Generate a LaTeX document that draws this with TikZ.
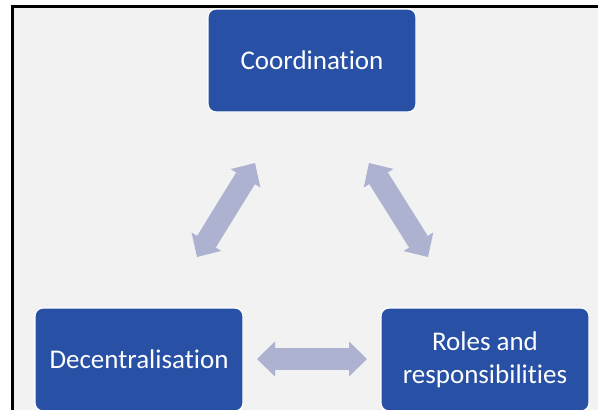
\documentclass[tikz,border=0pt]{standalone}
\usepackage{fontspec}
\setmainfont{Carlito}[Ligatures={NoCommon,NoContextual}]
\usetikzlibrary{arrows.meta}
\definecolor{boxblue}{RGB}{40,81,165}
\definecolor{arrowlav}{RGB}{172,178,208}
\definecolor{bggrey}{RGB}{242,242,242}
\begin{document}
\begin{tikzpicture}[x=1pt,y=-1pt,
  topic/.style={draw=white, line width=1.2pt, fill=boxblue, rounded corners=8pt,
    minimum width=208pt, minimum height=103pt, text=white,
    font=\fontsize{27}{33}\selectfont, align=center, inner sep=0pt},
  link/.style={draw=arrowlav, line width=22pt, {Triangle[width=35pt,length=18pt,line width=0pt]}-{Triangle[width=35pt,length=18pt,line width=0pt]}}]
\useasboundingbox (0,0) rectangle (598,410);
\fill[bggrey] (12.5,6.5) rectangle (620,430);
\draw[line width=3pt] (12.5,430) -- (12.5,6.5) -- (620,6.5);
\node[topic] (coord) at (312,60.5) {Coordination};
\node[topic] (decen) at (139,359.5) {Decentralisation};
\node[topic] (roles) at (485,359.5) {Roles and\\responsibilities};
\coordinate (l1) at (197,257);
\coordinate (l2) at (255,163);
\coordinate (r1) at (369,163);
\coordinate (r2) at (428,257);
\coordinate (h1) at (257,359);
\coordinate (h2) at (367,359);
\draw[link] (l1) -- (l2);
\draw[link] (r1) -- (r2);
\draw[link] (h1) -- (h2);
\end{tikzpicture}
\end{document}
